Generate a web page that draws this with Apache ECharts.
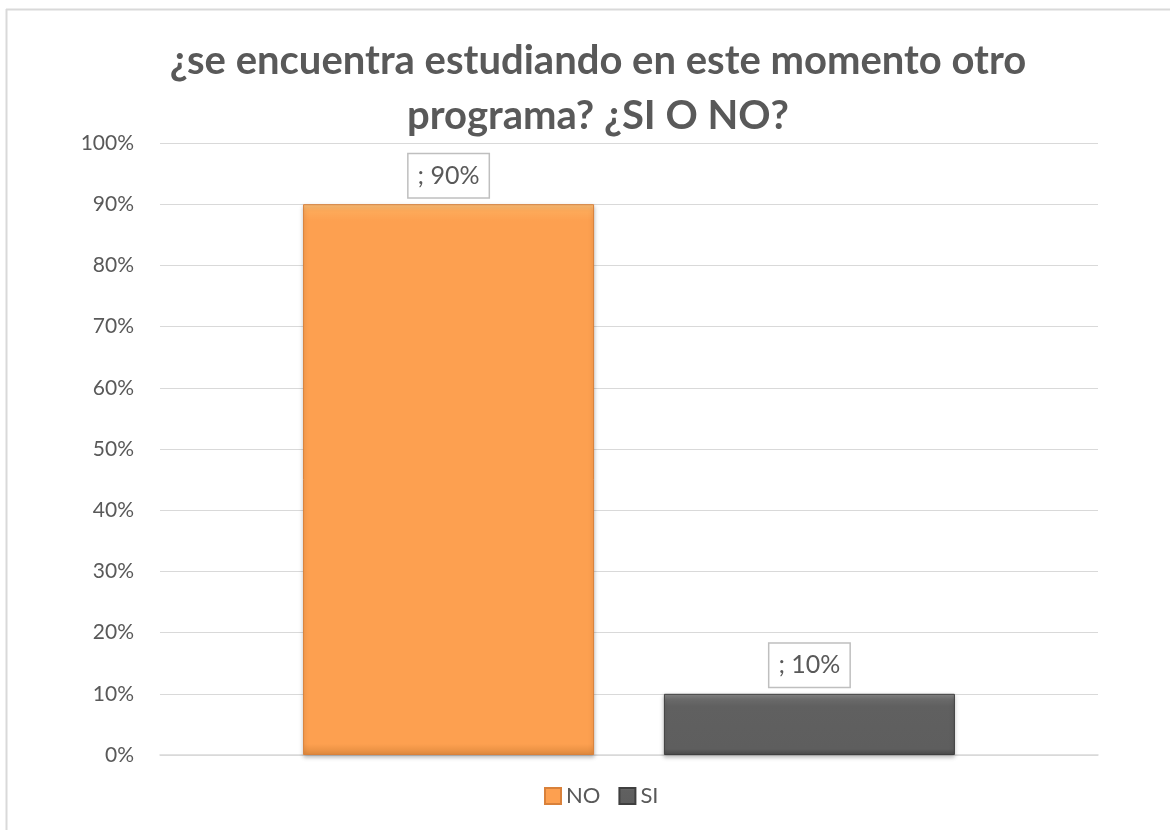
<!DOCTYPE html>
<html>
<head>
<meta charset="utf-8">
<script src="https://cdn.jsdelivr.net/npm/echarts@6/dist/echarts.min.js"></script>
<style>
html,body{margin:0;padding:0;background:#fff;}
#chart{width:1170px;height:830px;}
</style>
</head>
<body>
<div id="chart"></div>
<script>
const titleText = '¿se encuentra estudiando en este momento otro\nprograma? ¿SI O NO?';
const categories = [''];
const seriesNames = ['NO', 'SI'];
const noValues = [0.9];
const siValues = [0.1];
const yTicks = { min: 0, max: 1, interval: 0.1 };

const FONT = 'Lato, "Noto Sans", sans-serif';
const chart = echarts.init(document.getElementById('chart'));

function labelFmt(p) {
  return '; ' + Math.round(p.value * 100) + '%';
}
const labelStyle = {
  show: true,
  position: 'top',
  distance: 7,
  formatter: labelFmt,
  color: '#595959',
  fontFamily: FONT,
  fontSize: 25,
  lineHeight: 25,
  backgroundColor: '#fff',
  borderColor: '#bfbfbf',
  borderWidth: 1.5,
  padding: [9, 9, 9, 9]
};

chart.setOption({
  backgroundColor: '#fff',
  animation: false,
  title: {
    text: titleText,
    left: 593,
    textAlign: 'center',
    top: 29,
    textStyle: {
      fontFamily: FONT,
      fontWeight: 'bold',
      fontSize: 40,
      lineHeight: 55,
      color: '#595959'
    }
  },
  graphic: [
    { type: 'line', shape: { x1: 6, y1: 9.5, x2: 1170, y2: 9.5 }, style: { stroke: '#d9d9d9', lineWidth: 2 } },
    { type: 'line', shape: { x1: 6.5, y1: 9, x2: 6.5, y2: 830 }, style: { stroke: '#d9d9d9', lineWidth: 2 } }
  ],
  legend: {
    data: seriesNames,
    bottom: 18,
    left: 539,
    icon: 'rect',
    itemWidth: 16,
    itemHeight: 16,
    itemGap: 18,
    textStyle: { fontFamily: FONT, fontSize: 22, color: '#595959' }
  },
  grid: { left: 160, right: 72, top: 143, bottom: 75, containLabel: false },
  xAxis: {
    type: 'category',
    data: categories,
    axisLine: { show: true, lineStyle: { color: '#d9d9d9', width: 1.5 } },
    axisTick: { show: false },
    axisLabel: { show: false }
  },
  yAxis: {
    type: 'value',
    min: yTicks.min,
    max: yTicks.max,
    interval: yTicks.interval,
    axisLine: { show: false },
    axisTick: { show: false },
    splitLine: { lineStyle: { color: '#d9d9d9', width: 1.2 } },
    axisLabel: {
      margin: 26,
      color: '#595959',
      fontFamily: FONT,
      fontSize: 21,
      formatter: v => Math.round(v * 100) + '%'
    }
  },
  series: [
    {
      name: 'NO',
      type: 'bar',
      data: noValues,
      barWidth: 291,
      barGap: '24%',
      itemStyle: {
        color: {
          type: 'linear', x: 0, y: 0, x2: 0, y2: 1,
          colorStops: [
            { offset: 0, color: '#fcc07a' },
            { offset: 0.012, color: '#fdaa5a' },
            { offset: 0.03, color: '#fda050' },
            { offset: 0.98, color: '#fda050' },
            { offset: 1, color: '#e08a3e' }
          ]
        },
        borderColor: '#d9813a',
        borderWidth: 1,
        shadowColor: 'rgba(0,0,0,0.25)',
        shadowBlur: 4,
        shadowOffsetY: 2
      },
      label: labelStyle
    },
    {
      name: 'SI',
      type: 'bar',
      data: siValues,
      barWidth: 291,
      barGap: '24%',
      itemStyle: {
        color: {
          type: 'linear', x: 0, y: 0, x2: 0, y2: 1,
          colorStops: [
            { offset: 0, color: '#8a8a8a' },
            { offset: 0.1, color: '#6a6a6a' },
            { offset: 0.2, color: '#606060' },
            { offset: 0.9, color: '#5e5e5e' },
            { offset: 1, color: '#4a4a4a' }
          ]
        },
        borderColor: '#3f3f3f',
        borderWidth: 1,
        shadowColor: 'rgba(0,0,0,0.25)',
        shadowBlur: 4,
        shadowOffsetY: 2
      },
      label: labelStyle
    }
  ]
});
</script>
</body>
</html>
